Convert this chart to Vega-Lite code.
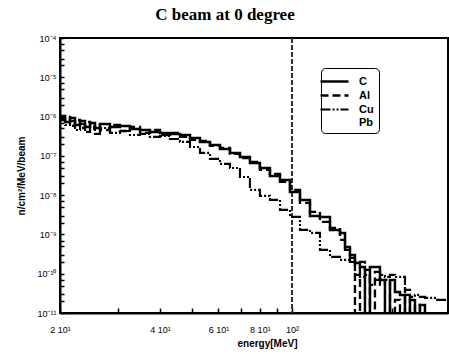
{
  "$schema": "https://vega.github.io/schema/vega-lite/v6.json",
  "width": 388,
  "height": 275,
  "autosize": "none",
  "padding": {"left": 60, "top": 38, "right": 1, "bottom": 41},
  "background": "white",
  "title": {"text": "C beam at 0 degree", "font": "Liberation Serif", "fontSize": 17, "fontWeight": "bold", "color": "black", "anchor": "middle", "dx": -29, "offset": 10},
  "config": {
    "view": {"stroke": "black", "strokeWidth": 2},
    "axis": {"domainColor": "black", "domainWidth": 2, "tickColor": "black", "tickWidth": 1.5, "labelColor": "black", "titleColor": "black", "grid": false, "labelFont": "Liberation Sans", "labelFontSize": 9, "titleFont": "Liberation Sans", "titleFontSize": 10, "titleFontWeight": "bold"}
  },
  "data": {"values": [
    {"E": 20.0, "C": 1.04e-6, "Al": 8.19e-7, "Cu": 9.21e-7},
    {"E": 20.71, "C": 7.29e-7, "Al": 9.77e-7, "Cu": 6.11e-7},
    {"E": 21.44, "C": 9.21e-7, "Al": 5.77e-7, "Cu": 7.73e-7},
    {"E": 22.19, "C": 6.11e-7, "Al": 8.19e-7, "Cu": 4.56e-7},
    {"E": 22.98, "C": 7.73e-7, "Al": 5.13e-7, "Cu": 6.48e-7},
    {"E": 23.79, "C": 5.44e-7, "Al": 7.29e-7, "Cu": 4.06e-7},
    {"E": 24.63, "C": 6.87e-7, "Al": 4.84e-7, "Cu": 5.44e-7},
    {"E": 25.49, "C": 5.13e-7, "Al": 6.48e-7, "Cu": 3.61e-7},
    {"E": 26.39, "C": 6.48e-7, "Al": 4.56e-7, "Cu": 5.13e-7},
    {"E": 28.29, "C": 5.44e-7, "Al": 6.11e-7, "Cu": 3.83e-7},
    {"E": 30.31, "C": 5.77e-7, "Al": 4.30e-7, "Cu": 4.30e-7},
    {"E": 32.49, "C": 4.84e-7, "Al": 5.44e-7, "Cu": 3.40e-7},
    {"E": 34.84, "C": 4.56e-7, "Al": 3.83e-7, "Cu": 3.61e-7},
    {"E": 37.33, "C": 4.06e-7, "Al": 4.56e-7, "Cu": 3.03e-7},
    {"E": 40.02, "C": 3.83e-7, "Al": 3.40e-7, "Cu": 3.21e-7},
    {"E": 42.89, "C": 3.61e-7, "Al": 3.83e-7, "Cu": 2.69e-7},
    {"E": 45.97, "C": 3.40e-7, "Al": 3.03e-7, "Cu": 2.26e-7},
    {"E": 49.28, "C": 2.85e-7, "Al": 2.54e-7, "Cu": 1.68e-7},
    {"E": 52.81, "C": 2.26e-7, "Al": 2.39e-7, "Cu": 1.19e-7},
    {"E": 56.60, "C": 1.89e-7, "Al": 1.79e-7, "Cu": 8.34e-8},
    {"E": 60.67, "C": 1.50e-7, "Al": 1.59e-7, "Cu": 6.22e-8},
    {"E": 65.02, "C": 1.19e-7, "Al": 1.12e-7, "Cu": 4.92e-8},
    {"E": 69.69, "C": 9.38e-8, "Al": 8.84e-8, "Cu": 2.90e-8},
    {"E": 74.68, "C": 6.60e-8, "Al": 7.00e-8, "Cu": 1.36e-8},
    {"E": 80.03, "C": 4.92e-8, "Al": 4.38e-8, "Cu": 9.54e-9},
    {"E": 85.80, "C": 3.08e-8, "Al": 3.46e-8, "Cu": 7.55e-9},
    {"E": 91.99, "C": 2.44e-8, "Al": 2.17e-8, "Cu": 4.20e-9},
    {"E": 98.59, "C": 1.21e-8, "Al": 1.36e-8, "Cu": 2.79e-9},
    {"E": 105.67, "C": 7.55e-9, "Al": 6.33e-9, "Cu": 1.30e-9},
    {"E": 113.25, "C": 2.96e-9, "Al": 3.74e-9, "Cu": 1.09e-9},
    {"E": 121.37, "C": 2.79e-9, "Al": 2.08e-9, "Cu": 4.03e-10},
    {"E": 130.12, "C": 1.30e-9, "Al": 1.46e-9, "Cu": 2.68e-10},
    {"E": 139.45, "C": 1.09e-9, "Al": 7.25e-10, "Cu": 2.24e-10},
    {"E": 144.4, "C": 4.81e-10, "Al": 4.03e-10, "Cu": 2.24e-10},
    {"E": 149.45, "C": 3.01e-10, "Al": 2.52e-10, "Cu": 2.00e-10},
    {"E": 154.73, "C": 1.88e-10, "Al": 1e-13, "Cu": 9.32e-11},
    {"E": 160.17, "C": 1.49e-10, "Al": 2.00e-10, "Cu": 8.29e-11},
    {"E": 165.83, "C": 1e-13, "Al": 1.25e-10, "Cu": 9.32e-11},
    {"E": 171.66, "C": 1.49e-10, "Al": 1e-13, "Cu": 5.19e-11},
    {"E": 177.73, "C": 1.49e-10, "Al": 1.11e-10, "Cu": 6.95e-11},
    {"E": 184.02, "C": 6.95e-11, "Al": 5.19e-11, "Cu": 9.32e-11},
    {"E": 190.49, "C": 1e-13, "Al": 6.95e-11, "Cu": 8.29e-11},
    {"E": 197.26, "C": 6.95e-11, "Al": 1e-13, "Cu": 9.32e-11},
    {"E": 204.18, "C": 3.44e-11, "Al": 2.15e-11, "Cu": 8.29e-11},
    {"E": 211.42, "C": 2.89e-11, "Al": 1e-13, "Cu": 8.29e-11},
    {"E": 218.88, "C": 1e-13, "Al": 3.87e-11, "Cu": 2.89e-11},
    {"E": 226.56, "C": 2.15e-11, "Al": 1e-13, "Cu": 2.57e-11},
    {"E": 234.58, "C": 1e-13, "Al": 1.61e-11, "Cu": 2.89e-11},
    {"E": 242.82, "C": 1.61e-11, "Al": 1e-13, "Cu": 2.57e-11},
    {"E": 251.42, "C": 1e-13, "Al": 1e-13, "Cu": 2.42e-11},
    {"E": 260.28, "C": 1e-13, "Al": 1e-13, "Cu": 2.42e-11},
    {"E": 269.44, "C": 1e-13, "Al": 1e-13, "Cu": 2.15e-11},
    {"E": 279.0, "C": 1e-13, "Al": 1e-13, "Cu": 2.15e-11},
    {"E": 288.82, "C": 1e-13, "Al": 1e-13, "Cu": 2.15e-11},
    {"E": 295.0, "C": 1e-13, "Al": 1e-13, "Cu": 2.15e-11}
  ]},
  "layer": [
    {
      "mark": {"type": "rule", "color": "#333", "strokeWidth": 0.8, "strokeDash": [5, 2]},
      "encoding": {"x": {"datum": 100, "type": "quantitative"}}
    },
    {
      "transform": [{"fold": ["C", "Al", "Cu"], "as": ["series", "flux"]}],
      "mark": {"type": "line", "interpolate": "step-after", "clip": true, "color": "black"},
      "encoding": {
        "x": {"field": "E", "type": "quantitative",
          "scale": {"type": "log", "domain": [20, 295], "nice": false},
          "axis": {"title": "energy[MeV]", "titleX": 207, "titlePadding": 4, "values": [20, 30, 40, 50, 60, 70, 80, 90, 100, 200],
            "labelExpr": "datum.value==20?'2 10¹':datum.value==40?'4 10¹':datum.value==60?'6 10¹':datum.value==80?'8 10¹':datum.value==100?'10²':''",
            "tickSize": -5, "labelPadding": 17, "labelFlush": false}},
        "y": {"field": "flux", "type": "quantitative",
          "scale": {"type": "log", "domain": [1e-11, 1e-4], "nice": false},
          "axis": {"title": "n/cm²/MeV/beam", "titlePadding": 10,
            "values": [1e-11, 2e-11, 3e-11, 5e-11, 7e-11, 1e-10, 2e-10, 3e-10, 5e-10, 7e-10, 1e-9, 2e-9, 3e-9, 5e-9, 7e-9, 1e-8, 2e-8, 3e-8, 5e-8, 7e-8, 1e-7, 2e-7, 3e-7, 5e-7, 7e-7, 1e-6, 2e-6, 3e-6, 5e-6, 7e-6, 1e-5, 2e-5, 3e-5, 5e-5, 7e-5, 1e-4],
            "labelExpr": "abs(log(datum.value)/LN10 - round(log(datum.value)/LN10)) < 0.01 ? ['10⁻¹¹','10⁻¹⁰','10⁻⁹','10⁻⁸','10⁻⁷','10⁻⁶','10⁻⁵','10⁻⁴'][round(log(datum.value)/LN10)+11] : ''",
            "tickSize": -4, "labelPadding": 8}},
        "strokeDash": {"field": "series", "type": "nominal",
          "scale": {"domain": ["C", "Al", "Cu", "Pb"], "range": [[1, 0], [8, 4], [10, 2, 2, 2, 2, 2], [0, 20]]},
          "legend": {"orient": "none", "legendX": 261, "legendY": 30, "title": null, "symbolType": "M-2,0L2,0", "symbolSize": 196, "symbolStrokeColor": "black", "labelFont": "Liberation Sans", "labelFontSize": 11, "labelFontWeight": "bold", "labelColor": "black", "strokeColor": "black", "cornerRadius": 4, "padding": 5, "rowPadding": 0, "labelOffset": 16}},
        "strokeWidth": {"field": "series", "type": "nominal",
          "scale": {"domain": ["C", "Al", "Cu", "Pb"], "range": [2.5, 2, 1.5, 1]},
          "legend": {"orient": "none", "legendX": 261, "legendY": 30, "title": null, "symbolType": "M-2,0L2,0", "symbolSize": 196, "symbolStrokeColor": "black", "labelFont": "Liberation Sans", "labelFontSize": 11, "labelFontWeight": "bold", "labelColor": "black", "strokeColor": "black", "cornerRadius": 4, "padding": 5, "rowPadding": 0, "labelOffset": 16}}
      }
    }
  ]
}
